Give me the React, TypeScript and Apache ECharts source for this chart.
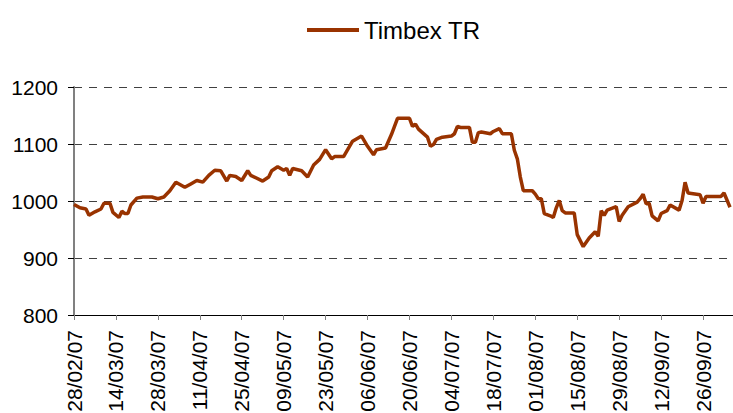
import React, { useEffect, useRef } from "react";
import * as echarts from "echarts";

const seriesName = "Timbex TR";
const startDate = "2007-02-28";
const dayCount = 221;

const obsDates = [
  "2007-02-28", "2007-03-02", "2007-03-04", "2007-03-05", "2007-03-07", "2007-03-09", "2007-03-10", "2007-03-12",
  "2007-03-13", "2007-03-15", "2007-03-16", "2007-03-17", "2007-03-18", "2007-03-19", "2007-03-21", "2007-03-23",
  "2007-03-26", "2007-03-28", "2007-03-30", "2007-04-01", "2007-04-03", "2007-04-06", "2007-04-08", "2007-04-10",
  "2007-04-12", "2007-04-14", "2007-04-16", "2007-04-18", "2007-04-20", "2007-04-21", "2007-04-23", "2007-04-25",
  "2007-04-27", "2007-04-28", "2007-05-02", "2007-05-04", "2007-05-05", "2007-05-07", "2007-05-09", "2007-05-10",
  "2007-05-11", "2007-05-12", "2007-05-15", "2007-05-17", "2007-05-19", "2007-05-21", "2007-05-23", "2007-05-25",
  "2007-05-26", "2007-05-29", "2007-06-01", "2007-06-04", "2007-06-06", "2007-06-08", "2007-06-09", "2007-06-12",
  "2007-06-14", "2007-06-16", "2007-06-20", "2007-06-21", "2007-06-22", "2007-06-23", "2007-06-26", "2007-06-27",
  "2007-06-28", "2007-06-29", "2007-07-01", "2007-07-04", "2007-07-05", "2007-07-06", "2007-07-07", "2007-07-10",
  "2007-07-11", "2007-07-12", "2007-07-13", "2007-07-14", "2007-07-17", "2007-07-18", "2007-07-20", "2007-07-21",
  "2007-07-24", "2007-07-25", "2007-07-26", "2007-07-27", "2007-07-28", "2007-07-31", "2007-08-01", "2007-08-02",
  "2007-08-03", "2007-08-04", "2007-08-06", "2007-08-07", "2007-08-08", "2007-08-09", "2007-08-10", "2007-08-11",
  "2007-08-14", "2007-08-15", "2007-08-17", "2007-08-19", "2007-08-21", "2007-08-22", "2007-08-23", "2007-08-24",
  "2007-08-25", "2007-08-28", "2007-08-29", "2007-08-30", "2007-09-01", "2007-09-04", "2007-09-05", "2007-09-06",
  "2007-09-07", "2007-09-08", "2007-09-09", "2007-09-11", "2007-09-12", "2007-09-14", "2007-09-15", "2007-09-18",
  "2007-09-19", "2007-09-20", "2007-09-21", "2007-09-25", "2007-09-26", "2007-09-27", "2007-10-02", "2007-10-03",
  "2007-10-05",
];

const obsValues = [
  994, 988, 986, 975, 981, 986, 996, 996,
  980, 971, 982, 978, 978, 993, 1005, 1007,
  1007, 1004, 1007, 1018, 1033, 1024, 1030, 1036,
  1033, 1045, 1054, 1053, 1035, 1045, 1043, 1036,
  1053, 1045, 1035, 1042, 1053, 1060, 1054, 1057,
  1045, 1057, 1053, 1042, 1063, 1073, 1090, 1074,
  1078, 1078, 1105, 1114, 1096, 1081, 1090, 1093,
  1117, 1145, 1145, 1131, 1135, 1126, 1112, 1096,
  1099, 1108, 1112, 1114, 1118, 1131, 1129, 1129,
  1103, 1103, 1120, 1121, 1118, 1122, 1127, 1118,
  1118, 1089, 1074, 1042, 1018, 1018, 1012, 1004,
  1004, 978, 974, 971, 988, 1001, 983, 979,
  979, 941, 920, 935, 946, 938, 983, 975,
  984, 990, 964, 975, 990, 998, 1004, 1012,
  995, 996, 974, 965, 978, 983, 993, 984,
  1001, 1033, 1014, 1011, 996, 1008, 1008, 1014,
  989,
];

const yMin = 800;
const yMax = 1200;
const yStep = 100;
const labelEvery = 14;

function pad(n: number) {
  return n < 10 ? "0" + n : String(n);
}

function buildDays() {
  const keys: string[] = [];
  const labels: string[] = [];
  const base = new Date(startDate + "T00:00:00Z").getTime();
  for (let i = 0; i < dayCount; i++) {
    const d = new Date(base + i * 86400000);
    const y = d.getUTCFullYear();
    const m = d.getUTCMonth() + 1;
    const day = d.getUTCDate();
    keys.push(y + "-" + pad(m) + "-" + pad(day));
    labels.push(pad(day) + "/" + pad(m) + "/" + String(y).slice(2));
  }
  return { keys, labels };
}

export default function App() {
  const ref = useRef<HTMLDivElement>(null);
  useEffect(() => {
    document.body.style.margin = "0";
    const chart = echarts.init(ref.current!, null, { renderer: "svg" });
    const { keys, labels } = buildDays();
    const data: (number | null)[] = keys.map(() => null);
    obsDates.forEach((d, i) => {
      const idx = keys.indexOf(d);
      if (idx >= 0) data[idx] = obsValues[i];
    });
    const font = "Liberation Sans";
    chart.setOption({
      animation: false,
      textStyle: { fontFamily: font },
      legend: {
        data: [seriesName],
        left: 302,
        top: 13,
        icon: "rect",
        itemWidth: 52,
        itemHeight: 4,
        itemGap: 5,
        textStyle: { fontSize: 24, color: "#000", fontFamily: font },
      },
      grid: {
        left: 74,
        right: 0,
        top: 87,
        bottom: 98,
        containLabel: false,
        outerBoundsMode: "none",
      },
      xAxis: {
        type: "category",
        data: labels,
        boundaryGap: false,
        axisLine: { show: true, lineStyle: { color: "#000", width: 1 } },
        axisTick: { show: true, interval: labelEvery - 1, length: 5, lineStyle: { color: "#808080" } },
        axisLabel: {
          interval: labelEvery - 1,
          rotate: 90,
          margin: 15,
          fontSize: 21,
          color: "#000",
          fontFamily: font,
        },
        splitLine: { show: false },
      },
      yAxis: {
        type: "value",
        min: yMin,
        max: yMax,
        interval: yStep,
        axisLine: { show: true, lineStyle: { color: "#808080", width: 2 } },
        axisTick: { show: true, length: 6, lineStyle: { color: "#000" } },
        axisLabel: {
          fontSize: 21,
          color: "#000",
          margin: 16,
          fontFamily: font,
          formatter: (v: number) => String(v),
        },
        splitLine: {
          show: true,
          lineStyle: { color: "#404040", type: [8, 7], width: 1 },
        },
      },
      series: [
        {
          name: seriesName,
          type: "line",
          data,
          connectNulls: true,
          showSymbol: false,
          symbol: "none",
          lineStyle: { color: "#993300", width: 3.5 },
          itemStyle: { color: "#993300" },
        },
      ],
    });
    return () => chart.dispose();
  }, []);
  return <div ref={ref} style={{ width: 733, height: 413 }} />;
}
